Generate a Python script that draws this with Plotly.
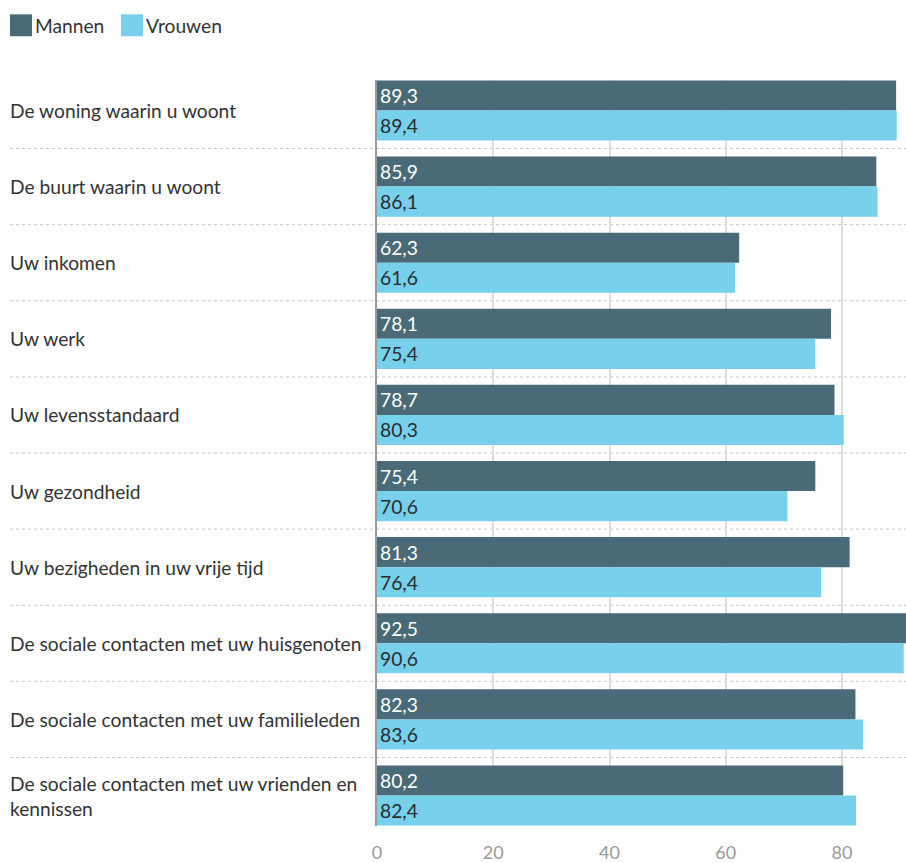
import plotly.graph_objects as go

categories = [
    "De woning waarin u woont",
    "De buurt waarin u woont",
    "Uw inkomen",
    "Uw werk",
    "Uw levensstandaard",
    "Uw gezondheid",
    "Uw bezigheden in uw vrije tijd",
    "De sociale contacten met uw huisgenoten",
    "De sociale contacten met uw familieleden",
    "De sociale contacten met uw vrienden en<br>kennissen",
]
mannen = [89.3, 85.9, 62.3, 78.1, 78.7, 75.4, 81.3, 92.5, 82.3, 80.2]
vrouwen = [89.4, 86.1, 61.6, 75.4, 80.3, 70.6, 76.4, 90.6, 83.6, 82.4]
series_names = ["Mannen", "Vrouwen"]
series_colors = ["#496a76", "#77d1ed"]
text_colors = ["#ffffff", "#2b2b2b"]
x_ticks = [0, 20, 40, 60, 80]

FONT = "Lato, 'Open Sans', sans-serif"
W, H = 906, 863
ML, MR, MT, MB = 377, 0, 80, 33
pw = W - ML - MR
ph = H - MT - MB

fig = go.Figure()
for name, vals, col, tcol in zip(series_names, [mannen, vrouwen], series_colors, text_colors):
    fig.add_trace(go.Bar(
        y=list(range(len(categories))), x=vals, orientation="h", name=name,
        marker=dict(color=col, line=dict(width=0)),
        texttemplate="%{x:.1f}", textposition="inside", insidetextanchor="start",
        constraintext="none",
        textfont=dict(color=tcol, size=19.3, family=FONT),
        showlegend=False, cliponaxis=True,
    ))

shapes = []
annotations = []
x0_paper = -(ML - 10) / pw
label_x = -(ML - 8) / pw
# separators
for i in range(len(categories) - 1):
    shapes.append(dict(type="line", xref="paper", yref="y", x0=x0_paper, x1=1,
                       y0=i + 0.5, y1=i + 0.5,
                       line=dict(color="#c8c8c8", width=1, dash="dot"), layer="below"))
# category labels
for i, c in enumerate(categories):
    annotations.append(dict(xref="paper", yref="y", x=label_x, y=i, text=c,
                            xanchor="left", yanchor="middle", align="left", showarrow=False,
                            font=dict(size=19.2, color="#333333", family=FONT)))
# custom legend
legend_x = [10, 121]
for name, col, lx in zip(series_names, series_colors, legend_x):
    shapes.append(dict(type="rect", xref="paper", yref="paper",
                       x0=(lx - ML) / pw, x1=(lx + 22 - ML) / pw,
                       y0=1 + (MT - 36) / ph, y1=1 + (MT - 14) / ph,
                       fillcolor=col, line=dict(width=0)))
    annotations.append(dict(xref="paper", yref="paper", x=(lx + 23 - ML) / pw,
                            y=1 + (MT - 25) / ph, text=name,
                            xanchor="left", yanchor="middle", showarrow=False,
                            font=dict(size=19.2, color="#333333", family=FONT)))

fig.update_layout(
    width=W, height=H,
    margin=dict(l=ML, r=MR, t=MT, b=MB, pad=0),
    paper_bgcolor="white", plot_bgcolor="white",
    barmode="group", bargap=0.21, bargroupgap=0,
    separators=",.",
    font=dict(family=FONT, color="#333333"),
    shapes=shapes, annotations=annotations,
    xaxis=dict(range=[0, 91], tickvals=x_ticks, showgrid=True, gridcolor="#dddddd",
               gridwidth=1.5, zeroline=False, showline=False,
               tickfont=dict(size=18, color="#9a9a9a", family=FONT),
               ticks="outside", ticklen=10, tickcolor="rgba(0,0,0,0)"),
    yaxis=dict(range=[9.4, -0.4], showticklabels=False, showgrid=False, zeroline=False,
               showline=True, linecolor="#9a9a9a", linewidth=1.5),
)

fig.write_html("out.html", config={"displayModeBar": False},
               post_script="document.body.style.margin='0';document.body.style.overflow='hidden';")
